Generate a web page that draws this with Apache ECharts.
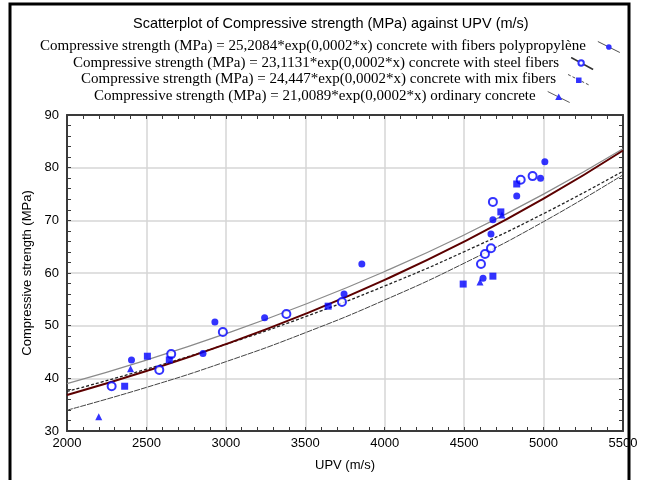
<!DOCTYPE html>
<html>
<head>
<meta charset="utf-8">
<script src="https://cdn.jsdelivr.net/npm/echarts@6/dist/echarts.min.js"></script>
<style>
html,body{margin:0;padding:0;background:#fff;}
#chart{width:645px;height:480px;}
</style>
</head>
<body>
<div id="chart"></div>
<script>
// ---- data ----
const titleText = 'Scatterplot of Compressive strength (MPa) against UPV (m/s)';
const seriesNames = [
  'Compressive strength (MPa) = 25,2084*exp(0,0002*x) concrete with fibers polypropylène',
  'Compressive strength (MPa) = 23,1131*exp(0,0002*x) concrete with steel fibers',
  'Compressive strength (MPa) = 24,447*exp(0,0002*x) concrete with mix fibers',
  'Compressive strength (MPa) = 21,0089*exp(0,0002*x) ordinary concrete'
];
const xAxisName = 'UPV (m/s)';
const yAxisName = 'Compressive strength (MPa)';

// scatter points [UPV, strength]
const ptsPoly = [[2406,43.5],[2856,44.7],[2931,50.7],[3244,51.5],[3744,56.0],[3856,61.7],
                 [4619,59.0],[4669,67.4],[4681,70.1],[4831,74.6],[4981,78.0],[5008,81.1]];
const ptsSteel = [[2281,38.5],[2581,41.6],[2656,44.6],[2981,48.8],[3381,52.2],[3731,54.5],
                  [4606,61.7],[4631,63.6],[4669,64.7],[4681,73.5],[4856,77.7],[4931,78.4]];
const ptsMix = [[2363,38.5],[2506,44.2],[2644,43.5],[3644,53.7],[4494,57.9],[4681,59.4],
                [4731,71.6],[4831,76.9]];
const ptsOrd = [[2200,32.7],[2400,41.8],[4600,58.3],[4738,71.0]];

// fitted curves read at these UPV values
const curveX = [2000,2500,3000,3500,4000,4500,5000,5500];
const curvePoly  = [38.99,43.47,48.48,54.07,60.29,67.23,74.98,83.61];
const curveSteel = [36.83,41.38,46.50,52.25,58.70,65.95,74.10,83.26];
const curveMix   = [37.51,41.74,46.46,51.71,57.54,64.04,71.27,79.33];
const curveOrd   = [33.95,38.28,43.16,48.66,54.87,61.86,69.75,78.64];

// axis ranges
const xMin = 2000, xMax = 5500, xStep = 500;
const yMin = 30, yMax = 90, yStep = 10;

// ---- chart ----
const blue = '#0000ff';
function svgIcon(inner){
  const s = '<svg xmlns="http://www.w3.org/2000/svg" width="24" height="14" viewBox="0 0 24 14">' + inner + '</svg>';
  return 'image://data:image/svg+xml;charset=utf-8,' + encodeURIComponent(s);
}
const icons = [
  svgIcon('<line x1="1" y1="2" x2="23" y2="13" stroke="#222" stroke-width="1"/><circle cx="12" cy="7.5" r="2.8" fill="' + blue + '"/>'),
  svgIcon('<line x1="1" y1="1" x2="23" y2="13" stroke="#000" stroke-width="1.6"/><circle cx="11" cy="6.5" r="2.7" fill="#fff" stroke="' + blue + '" stroke-width="2"/>'),
  svgIcon('<line x1="1" y1="2" x2="23" y2="13" stroke="#222" stroke-width="1" stroke-dasharray="3,2"/><rect x="9" y="5" width="5.5" height="5.5" fill="' + blue + '"/>'),
  svgIcon('<line x1="1" y1="2" x2="23" y2="13" stroke="#333" stroke-width="1"/><polygon points="12,4 15.5,10.5 8.5,10.5" fill="' + blue + '"/>')
];
const legendTops = [34, 51, 67, 84];
const legendLefts = [35, 68, 76, 89];
const legends = seriesNames.map((n, i) => ({
  data: [{name: n, icon: icons[i]}],
  left: legendLefts[i],
  top: legendTops[i],
  padding: 5,
  align: 'right',
  itemWidth: 24,
  itemHeight: 14,
  itemGap: 0,
  selectedMode: false,
  textStyle: {fontFamily: 'Liberation Serif', fontSize: 15, color: '#000', padding: [0, 6, 0, 0]}
}));

function pairs(xs, ys){ return xs.map((x, i) => [x, ys[i]]); }

const axisLineStyle = {color: '#3a3a3a', width: 2};
const tickStyle = {color: '#3a3a3a', width: 1};
function xAx(pos, showLabels){
  return {
    type: 'value', position: pos, min: xMin, max: xMax, interval: xStep,
    name: showLabels ? xAxisName : '', nameLocation: 'middle', nameGap: 28,
    nameTextStyle: {fontFamily: 'Liberation Sans', fontSize: 13, color: '#000'},
    axisLine: {show: true, onZero: false, lineStyle: axisLineStyle},
    axisTick: {show: true, inside: true, length: 4, lineStyle: tickStyle},
    minorTick: {show: true, splitNumber: 5, length: 4, lineStyle: tickStyle},
    axisLabel: {show: showLabels, margin: 6, fontFamily: 'Liberation Sans', fontSize: 13, color: '#000',
                formatter: v => String(v)},
    splitLine: {show: showLabels, lineStyle: {color: '#d6d6d6', width: 1.5}}
  };
}
function yAx(pos, showLabels){
  return {
    type: 'value', position: pos, min: yMin, max: yMax, interval: yStep,
    name: showLabels ? yAxisName : '', nameLocation: 'middle', nameGap: 23,
    nameTextStyle: {fontFamily: 'Liberation Sans', fontSize: 13, color: '#000'},
    axisLine: {show: true, onZero: false, lineStyle: axisLineStyle},
    axisTick: {show: true, inside: true, length: 4, lineStyle: tickStyle},
    minorTick: {show: true, splitNumber: 5, length: 4, lineStyle: tickStyle},
    axisLabel: {show: showLabels, margin: 8, fontFamily: 'Liberation Sans', fontSize: 13, color: '#000',
                formatter: v => String(v)},
    splitLine: {show: showLabels, lineStyle: {color: '#d6d6d6', width: 1.5}}
  };
}

function curve(data, color, width, type, z){
  return {
    type: 'line', data: data, smooth: true, showSymbol: false, silent: true, z: z,
    lineStyle: {color: color, width: width, type: type}, xAxisIndex: 0, yAxisIndex: 0
  };
}
function scatter(name, data, symbol, size, style){
  return {
    type: 'scatter', name: name, data: data, symbol: symbol, symbolSize: size, z: 10,
    itemStyle: style, xAxisIndex: 0, yAxisIndex: 0
  };
}

const option = {
  animation: false,
  backgroundColor: '#fff',
  title: {
    text: titleText, left: 128, top: 11, padding: 5,
    textStyle: {fontFamily: 'Liberation Sans', fontSize: 14.5, fontWeight: 'normal', color: '#000'}
  },
  legend: legends,
  grid: {left: 67, right: 22, top: 115, bottom: 49, containLabel: false},
  xAxis: [xAx('bottom', true), xAx('top', false)],
  yAxis: [yAx('left', true), yAx('right', false)],
  graphic: [{
    type: 'rect', z: 100, silent: true,
    shape: {x: 10, y: 4, width: 619, height: 500},
    style: {fill: 'none', stroke: '#000', lineWidth: 3}
  }],
  series: [
    curve(pairs(curveX, curvePoly), '#8a8a8a', 1.2, 'solid', 2),
    curve(pairs(curveX, curveOrd), '#444', 1, [6, 1], 2),
    curve(pairs(curveX, curveMix), '#222', 1.3, [3, 2], 3),
    curve(pairs(curveX, curveSteel), '#5c0000', 2, 'solid', 4),
    scatter(seriesNames[0], ptsPoly, 'circle', 7, {color: blue}),
    scatter(seriesNames[1], ptsSteel, 'circle', 8, {color: '#fff', borderColor: blue, borderWidth: 2}),
    scatter(seriesNames[2], ptsMix, 'rect', 7, {color: blue}),
    scatter(seriesNames[3], ptsOrd, 'triangle', 7, {color: blue})
  ]
};

const chart = echarts.init(document.getElementById('chart'), null, {renderer: 'canvas'});
chart.setOption(option);
</script>
</body>
</html>
